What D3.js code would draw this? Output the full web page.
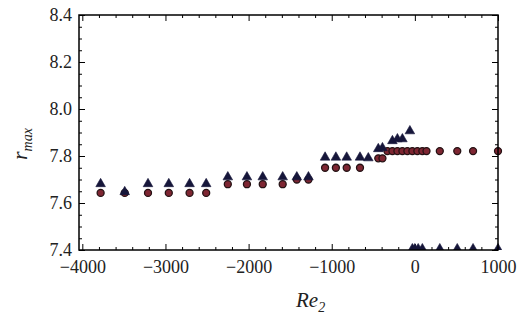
<!DOCTYPE html>
<html><head><meta charset="utf-8">
<script src="https://cdn.jsdelivr.net/npm/d3@7"></script>
<style>body{margin:0;background:#fff}svg{display:block}</style>
</head><body>
<svg id="c" width="520" height="320"></svg>
<script>
const triX = [-3780,-3490,-3210,-2960,-2710,-2510,-2250,-2020,-1830,-1590,-1420,-1280,-1080,-950,-820,-660,-560,-440,-390,-270,-210,-150,-60,-30,0,40,90,300,510,700,1000];
const triY = [7.677,7.643,7.677,7.677,7.677,7.677,7.706,7.706,7.706,7.706,7.706,7.706,7.79,7.79,7.79,7.79,7.787,7.826,7.83,7.86,7.868,7.868,7.902,7.4,7.4,7.4,7.4,7.4,7.4,7.4,7.4];
const cirX = [-3780,-3490,-3210,-2960,-2710,-2510,-2250,-2020,-1830,-1590,-1420,-1280,-1080,-950,-820,-660,-440,-390,-330,-270,-210,-150,-90,-30,30,90,140,300,510,700,1000];
const cirY = [7.643,7.643,7.643,7.643,7.643,7.643,7.68,7.68,7.68,7.68,7.70,7.70,7.75,7.75,7.75,7.75,7.79,7.79,7.821,7.821,7.821,7.821,7.821,7.821,7.821,7.821,7.821,7.821,7.821,7.821,7.821];
const xMajor = [-4000,-3000,-2000,-1000,0,1000];
const yMajor = [7.4,7.6,7.8,8.0,8.2,8.4];

const L=79,R=498,T=15,B=250;
const svg=d3.select("#c");
const x=d3.scaleLinear().domain([-4040,1000]).range([L,R]);
const y=d3.scaleLinear().domain([7.4,8.4]).range([B,T]);
const xMinor=d3.range(-4000,1001,200).filter(v=>!xMajor.includes(v));
const yMinor=d3.range(0,21).map(i=>+(7.4+i*0.05).toFixed(2)).filter(v=>!yMajor.some(m=>Math.abs(m-v)<1e-6));
const font="'Liberation Serif','Times New Roman',serif";

function axis(gen,tr,vals,size,labels){
  const g=svg.append("g").attr("transform",tr).call(gen.tickValues(vals).tickSize(size).tickSizeOuter(0).tickPadding(6).tickFormat(labels?(d=>d3.format("")(d)):""));
  g.select(".domain").remove();
  g.selectAll(".tick line").attr("stroke","#000").attr("stroke-width",1);
  g.selectAll("text").attr("font-family",font).attr("font-size",18).attr("fill","#222");
  return g;
}
// bottom
axis(d3.axisBottom(x),`translate(0,${B})`,xMajor,-6,true).selectAll("text").attr("dy","0.75em").attr("y",9)
  .text(d=>d<0?"\u2212"+Math.abs(d):d);
axis(d3.axisBottom(x),`translate(0,${B})`,xMinor,-3,false);
axis(d3.axisTop(x),`translate(0,${T})`,xMajor,-6,false);
axis(d3.axisTop(x),`translate(0,${T})`,xMinor,-3,false);
// left
const yl=axis(d3.axisLeft(y),`translate(${L},0)`,yMajor,-6,true);
yl.selectAll("text").text(d=>d.toFixed(1)).attr("x",-7).attr("dy","0.3em");
axis(d3.axisLeft(y),`translate(${L},0)`,yMinor,-3,false);
axis(d3.axisRight(y),`translate(${R},0)`,yMajor,-6,false);
axis(d3.axisRight(y),`translate(${R},0)`,yMinor,-3,false);

svg.append("defs").append("clipPath").attr("id","clip").append("rect")
  .attr("x",L-6).attr("y",T).attr("width",R-L+12).attr("height",B-T);
const pg=svg.append("g").attr("clip-path","url(#clip)");
const cir=cirX.map((v,i)=>[v,cirY[i]]);
const tri=triX.map((v,i)=>[v,triY[i]]);
pg.selectAll("circle").data(cir).join("circle")
  .attr("cx",d=>x(d[0])).attr("cy",d=>y(d[1])).attr("r",3.5)
  .attr("fill","#7e2632").attr("stroke","#241214").attr("stroke-width",1.3);
const sym=d3.symbol().type(d3.symbolTriangle).size(40);
pg.selectAll("path.t").data(tri).join("path").attr("class","t")
  .attr("transform",d=>`translate(${x(d[0])},${y(d[1])-1})`).attr("d",sym)
  .attr("fill","#16163a").attr("stroke","#16163a").attr("stroke-width",0.6);

svg.append("rect").attr("x",L).attr("y",T).attr("width",R-L).attr("height",B-T)
  .attr("fill","none").attr("stroke","#000").attr("stroke-width",1.5);

// axis titles
const xt=svg.append("text").attr("x",296).attr("y",307).attr("font-family",font).attr("font-style","italic").attr("font-size",21).attr("fill","#222");
xt.append("tspan").text("Re");
xt.append("tspan").attr("font-size",14).attr("dy",5).text("2");
const yt=svg.append("text").attr("transform","translate(27,160) rotate(-90)").attr("font-family",font).attr("font-style","italic").attr("font-size",22).attr("fill","#222");
yt.append("tspan").text("r");
yt.append("tspan").attr("font-size",14).attr("dy",5).text("max");
</script>
</body></html>
